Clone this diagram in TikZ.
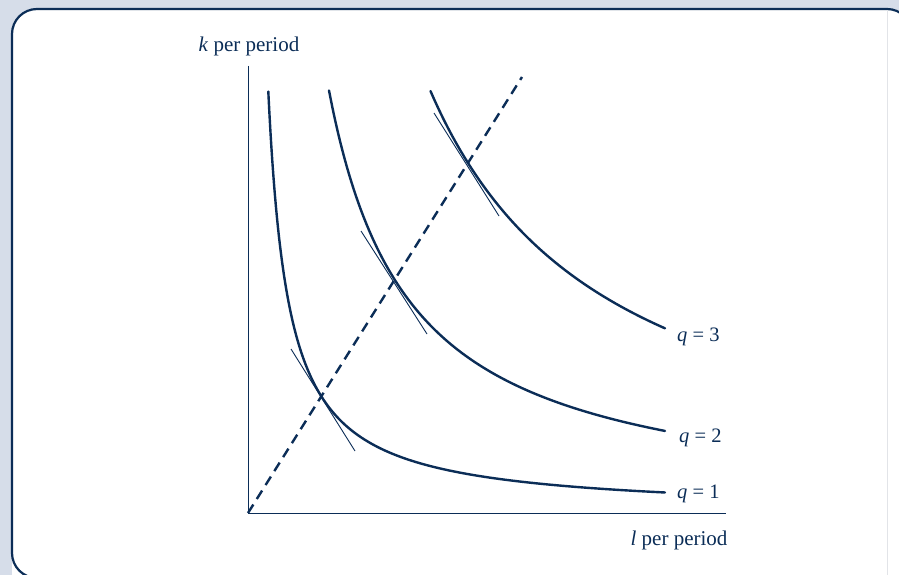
\documentclass[tikz,border=0pt]{standalone}
\usepackage{fontspec}
\setmainfont{Liberation Serif}
\definecolor{navy}{HTML}{0B2D57}
\definecolor{bgblue}{HTML}{D6DDE9}
\definecolor{edgegrey}{HTML}{E2E4E8}
\begin{document}
\begin{tikzpicture}[x=1pt,y=-1pt,
  curve/.style={navy,line width=2.4pt,line cap=round},
  tangent/.style={navy,line width=0.9pt},
  axis/.style={navy,line width=1pt},
  ray/.style={navy,line width=2.4pt,dash pattern=on 10pt off 6.5pt},
  lbl/.style={text=navy,font=\fontsize{21}{24}\selectfont,inner sep=0pt},
  qlbl/.style={text=navy,font=\fontsize{20.5}{24}\selectfont,inner sep=0pt}]
\useasboundingbox (0,0) rectangle (899,575);
\fill[bgblue] (0,0) rectangle (899,575);
\fill[white,rounded corners=25pt] (12,9) rectangle (912,600);
\draw[navy,line width=2.2pt,rounded corners=25pt] (80,578) -- (12,578) -- (12,9) -- (912,9) -- (912,80);
\draw[edgegrey,line width=1pt] (887,11) -- (887,575);
% axes
\coordinate (O) at (248,513);
\coordinate (ytop) at (248,66);
\coordinate (xend) at (726,513);
\draw[axis] (ytop) -- (O) -- (xend);
\node[lbl,anchor=base] (ylab) at (249,52) {\textit{k} per period};
\node[lbl,anchor=base] (xlab) at (679,545) {\textit{l} per period};
% ray
\coordinate (rayend) at (522,77);
\draw[ray] (O) -- (rayend);
% isoquants
\begin{scope}[shift={(248,513)}]
\draw[curve] plot[domain=20.3:417,samples=400] (\x,{-92.5*(92.5/\x)}) coordinate (e1);
\draw[curve] plot[domain=81:417,samples=400] (\x,{-185*(185/\x)}) coordinate (e2);
\draw[curve] plot[domain=182.5:417,samples=400] (\x,{-277.5*(277.5/\x)}) coordinate (e3);
\end{scope}
% tangents
\coordinate (t1a) at (291,349); \coordinate (t1b) at (355,451);
\coordinate (t2a) at (361,231); \coordinate (t2b) at (427,334);
\coordinate (t3a) at (434,113); \coordinate (t3b) at (499,216);
\draw[tangent] (t1a) -- (t1b);
\draw[tangent] (t2a) -- (t2b);
\draw[tangent] (t3a) -- (t3b);
% labels
\node[qlbl,anchor=base west] (q1) at (677,498) {\textit{q} = 1};
\node[qlbl,anchor=base west] (q2) at (679,442) {\textit{q} = 2};
\node[qlbl,anchor=base west] (q3) at (677,341) {\textit{q} = 3};
\end{tikzpicture}
\end{document}
